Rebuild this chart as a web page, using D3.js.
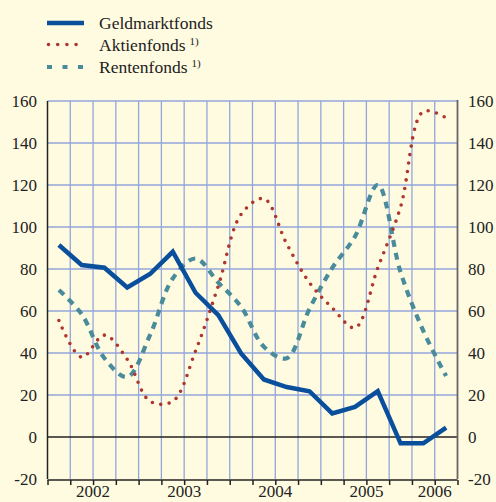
<!DOCTYPE html>
<html>
<head>
<meta charset="utf-8">
<script src="https://cdn.jsdelivr.net/npm/d3@7"></script>
<style>
  html, body { margin: 0; padding: 0; background: #fffbe0; }
  svg { display: block; }
  svg text { font-family: "Liberation Serif", Tinos, "Times New Roman", Times, "DejaVu Serif", serif !important; fill: #222; }
</style>
</head>
<body>
<div id="chart"></div>
<script>
// quarters 2002 Q1 .. 2006 Q2
const quarters = ['2002Q1','2002Q2','2002Q3','2002Q4','2003Q1','2003Q2','2003Q3','2003Q4',
  '2004Q1','2004Q2','2004Q3','2004Q4','2005Q1','2005Q2','2005Q3','2005Q4','2006Q1','2006Q2'];

const geldmarkt = [91.4, 81.9, 80.6, 71.2, 77.6, 88.2, 68.7, 58.0, 39.8, 27.4, 23.8, 21.8, 11.2, 14.3, 21.8, -3, -3, 4.5];
const aktien    = [55.5, 38, 48.5, 37, 17, 17, 41, 72, 106, 113.5, 92, 73.5, 61.5, 52, 80.5, 109.5, 155, 152];
const renten    = [70, 58.5, 37.5, 28.6, 48.5, 75.5, 85, 73.5, 62, 43, 37.5, 61, 80.5, 95.5, 120, 78.5, 50.5, 29];

const yearLabels = ['2002', '2003', '2004', '2005', '2006'];
const yearPos = [2, 6, 10, 14, 17]; // centre of each year's quarters
const yTicks = [-20, 0, 20, 40, 60, 80, 100, 120, 140, 160];

const W = 496, H = 502;
const pLeft = 47.5, pRight = 457.5, pTop = 101, pBottom = 479;

const svg = d3.select('#chart').append('svg')
  .attr('width', W).attr('height', H)
  .style('background', '#fffbe0');

const x = d3.scaleLinear().domain([0, quarters.length]).range([pLeft, pRight]);
const y = d3.scaleLinear().domain([-20, 160]).range([pBottom, pTop]);

// grid
const grid = svg.append('g');
grid.selectAll('.vg').data(d3.range(1, quarters.length)).enter().append('line')
  .attr('x1', d => x(d)).attr('x2', d => x(d))
  .attr('y1', pTop).attr('y2', pBottom)
  .attr('stroke', '#93a6dc').attr('stroke-width', 1.3);
grid.selectAll('.hg').data(yTicks.filter(v => v > 0)).enter().append('line')
  .attr('x1', pLeft).attr('x2', pRight)
  .attr('y1', d => y(d)).attr('y2', d => y(d))
  .attr('stroke', '#93a6dc').attr('stroke-width', 1.3);

// zero line and frame
svg.append('line').attr('x1', pLeft).attr('x2', pRight).attr('y1', y(0)).attr('y2', y(0))
  .attr('stroke', '#222').attr('stroke-width', 1.5);
svg.append('line').attr('x1', pLeft).attr('x2', pLeft).attr('y1', pTop).attr('y2', pBottom)
  .attr('stroke', '#222').attr('stroke-width', 1.5);
svg.append('line').attr('x1', pRight).attr('x2', pRight).attr('y1', pTop - 1).attr('y2', pBottom)
  .attr('stroke', '#666').attr('stroke-width', 1.8);

// bottom axis with quarter ticks
const xAxis = d3.axisBottom(x).tickValues(d3.range(0, quarters.length + 1))
  .tickSize(5).tickFormat('');
const xg = svg.append('g').attr('transform', `translate(0,${pBottom + 1})`).call(xAxis);
xg.select('.domain').attr('stroke', '#222').attr('stroke-width', 1.5).attr('d', `M${pLeft},0H${pRight}`);
xg.selectAll('.tick line').attr('stroke', '#222').attr('stroke-width', 1.5);

svg.selectAll('.year').data(yearLabels).enter().append('text')
  .attr('x', (d, i) => x(yearPos[i]))
  .attr('y', 497)
  .attr('text-anchor', 'middle')
  .style('font-size', '17px')
  .text(d => d);

// y labels both sides
const yl = svg.append('g').attr('transform', `translate(37,0)`)
  .call(d3.axisLeft(y).tickValues(yTicks).tickSize(0).tickPadding(0).tickFormat(d => String(d)));
yl.select('.domain').remove();
yl.selectAll('text').style('font-size', '17px');

const yr = svg.append('g').attr('transform', `translate(468,0)`)
  .call(d3.axisRight(y).tickValues(yTicks).tickSize(0).tickPadding(0).tickFormat(d => String(d)));
yr.select('.domain').remove();
yr.selectAll('text').style('font-size', '17px');

// series
const lineStraight = d3.line().x((d, i) => x(i + 0.5)).y(d => y(d));
const lineSmooth = d3.line().x((d, i) => x(i + 0.5)).y(d => y(d)).curve(d3.curveCatmullRom.alpha(0.5));

svg.append('path').datum(renten).attr('d', lineSmooth)
  .attr('fill', 'none').attr('stroke', '#4a8b9b').attr('stroke-width', 4.2)
  .attr('stroke-dasharray', '7 6');

svg.append('path').datum(aktien).attr('d', lineSmooth)
  .attr('fill', 'none').attr('stroke', '#ae3530').attr('stroke-width', 3.6)
  .attr('stroke-linecap', 'round').attr('stroke-dasharray', '0 8.5');

svg.append('path').datum(geldmarkt).attr('d', lineStraight)
  .attr('fill', 'none').attr('stroke', '#0a4f9c').attr('stroke-width', 4.5)
  .attr('stroke-linejoin', 'miter');

// legend
const legend = [
  { name: 'Geldmarktfonds', sup: false, color: '#0a4f9c', w: 4.5, dash: null, cap: 'butt', y: 23 },
  { name: 'Aktienfonds', sup: true, color: '#ae3530', w: 3.6, dash: '0 9.2', cap: 'round', y: 44.5 },
  { name: 'Rentenfonds', sup: true, color: '#4a8b9b', w: 4.2, dash: '5 10.5', cap: 'butt', y: 67 }
];
const lg = svg.append('g');
legend.forEach(l => {
  lg.append('line').attr('x1', l.cap === 'round' ? 48.5 : 47).attr('x2', 84)
    .attr('y1', l.y).attr('y2', l.y)
    .attr('stroke', l.color).attr('stroke-width', l.w)
    .attr('stroke-linecap', l.cap)
    .attr('stroke-dasharray', l.dash);
  const t = lg.append('text').attr('x', 99).attr('y', l.y + 6).style('font-size', '17.5px').text(l.name);
  if (l.sup) {
    t.append('tspan').attr('dx', 4).attr('dy', -6).style('font-size', '11px').text('1)');
  }
});
</script>
</body>
</html>
